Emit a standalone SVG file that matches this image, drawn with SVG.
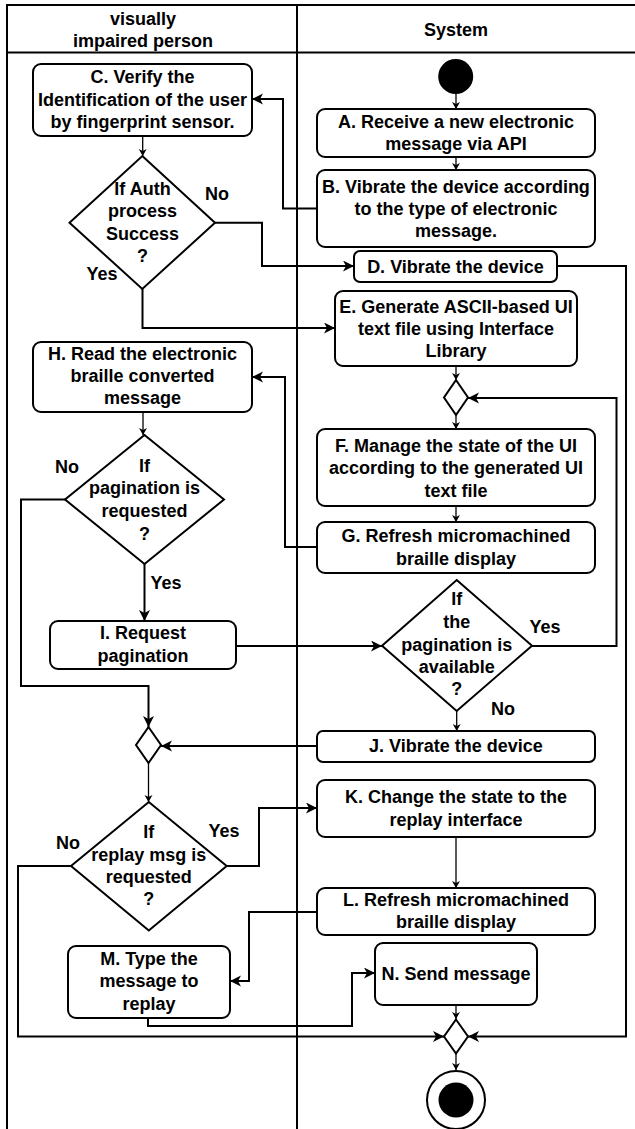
<svg xmlns="http://www.w3.org/2000/svg" width="635" height="1129" viewBox="0 0 635 1129">
<style>
.lane{fill:none;stroke:#000;stroke-width:2}
.box{fill:#fff;stroke:#000;stroke-width:2}
.t{font-family:"Liberation Sans",Arial,sans-serif;font-size:18px;font-weight:bold;fill:#000;text-anchor:middle}
.thin{fill:none;stroke:#000;stroke-width:1.3}
.thick{fill:none;stroke:#000;stroke-width:2}
</style>
<defs>
<marker id="sa" markerUnits="userSpaceOnUse" markerWidth="10" markerHeight="10" refX="7" refY="4" orient="auto"><path d="M0,0 L7,4 L0,8 L2,4 Z" fill="#000"/></marker>
<marker id="ba" markerUnits="userSpaceOnUse" markerWidth="14" markerHeight="14" refX="11" refY="5.5" orient="auto"><path d="M0,0 L11,5.5 L0,11 L3,5.5 Z" fill="#000"/></marker>
</defs>
<rect width="635" height="1129" fill="#fff"/>
<g id="swimlanes">
<path class="lane" d="M7,1129 V5 H640 M7,52.5 H640 M297,5 V1129"/>
<text class="t" x="143" y="25">visually</text>
<text class="t" x="143" y="47">impaired person</text>
<text class="t" x="456" y="36">System</text>
</g>
<g id="connectors">
<path class="thin" marker-end="url(#sa)" d="M456,94 V109"/>
<path class="thin" marker-end="url(#sa)" d="M456,157 V170"/>
<path class="thin" marker-end="url(#sa)" d="M142.7,136 V156"/>
<path class="thin" marker-end="url(#sa)" d="M456,366 V380"/>
<path class="thin" marker-end="url(#sa)" d="M456,415 V429"/>
<path class="thin" marker-end="url(#sa)" d="M456,506 V522"/>
<path class="thin" marker-end="url(#sa)" d="M143,412 V435"/>
<path class="thin" marker-end="url(#sa)" d="M456.7,711 V731"/>
<path class="thin" marker-end="url(#sa)" d="M148.5,763 V802"/>
<path class="thin" marker-end="url(#sa)" d="M456,837 V888"/>
<path class="thin" marker-end="url(#sa)" d="M456,1005 V1019"/>
<path class="thin" marker-end="url(#sa)" d="M456,1053 V1070"/>
<path class="thick" marker-end="url(#ba)" d="M317,208.5 H283 V99 H252"/>
<path class="thick" marker-end="url(#ba)" d="M215,222.7 H262 V266 H354"/>
<path class="thick" marker-end="url(#ba)" d="M142.5,289 V328 H335"/>
<path class="thick" marker-end="url(#ba)" d="M557,266 H626 V1036.5 H468"/>
<path class="thick" marker-end="url(#ba)" d="M317,547 H285 V377 H252"/>
<path class="thick" marker-end="url(#ba)" d="M144.5,564 V621"/>
<path class="thick" marker-end="url(#ba)" d="M65,499.5 H21 V686 H148.5 V727"/>
<path class="thick" marker-end="url(#ba)" d="M236,646 H382"/>
<path class="thick" marker-end="url(#ba)" d="M532,646 H616.5 V398 H468"/>
<path class="thick" marker-end="url(#ba)" d="M317,746 H161"/>
<path class="thick" marker-end="url(#ba)" d="M226.7,866 H259 V808 H317"/>
<path class="thick" marker-end="url(#ba)" d="M71,866 H18 V1036.5 H444"/>
<path class="thick" marker-end="url(#ba)" d="M317,912 H249 V981 H230"/>
<path class="thick" marker-end="url(#ba)" d="M148,1018 V1026 H352 V973 H375"/>
<text class="t" x="217" y="200">No</text>
<text class="t" x="102" y="280">Yes</text>
<text class="t" x="67" y="473">No</text>
<text class="t" x="166" y="589">Yes</text>
<text class="t" x="545" y="633">Yes</text>
<text class="t" x="503" y="715">No</text>
<text class="t" x="68" y="849">No</text>
<text class="t" x="224" y="837">Yes</text>
</g>
<g id="start"><circle cx="455.7" cy="76.5" r="17.5" fill="#000"/></g>
<g id="A"><rect class="box" x="317" y="109" width="278" height="48" rx="8"/>
<text class="t" x="456" y="128">A. Receive a new electronic</text><text class="t" x="456" y="150">message via API</text></g>
<g id="B"><rect class="box" x="317" y="170" width="278" height="77" rx="8"/>
<text class="t" x="456" y="193">B. Vibrate the device according</text><text class="t" x="456" y="215">to the type of electronic</text><text class="t" x="456" y="237">message.</text></g>
<g id="C"><rect class="box" x="33" y="64" width="219" height="72" rx="8"/>
<text class="t" x="142.5" y="83">C. Verify the</text><text class="t" x="142.5" y="105.5">Identification of the user</text><text class="t" x="142.5" y="128">by fingerprint sensor.</text></g>
<g id="auth"><path class="box" d="M142.3,156 L215,222.7 L142.3,289 L69.5,222.7 Z"/>
<text class="t" x="142.5" y="195">If Auth</text><text class="t" x="142.5" y="217">process</text><text class="t" x="142.5" y="240">Success</text><text class="t" x="142.5" y="262">?</text></g>
<g id="D"><rect class="box" x="354" y="251" width="203" height="31" rx="6"/>
<text class="t" x="455.5" y="272.5">D. Vibrate the device</text></g>
<g id="E"><rect class="box" x="335" y="291" width="242" height="75" rx="8"/>
<text class="t" x="456" y="313">E. Generate ASCII-based UI</text><text class="t" x="456" y="335">text file using Interface</text><text class="t" x="456" y="357">Library</text></g>
<g id="merge1"><path class="box" d="M456,380 L468,397.5 L456,415 L444,397.5 Z"/></g>
<g id="F"><rect class="box" x="317" y="429" width="278" height="77" rx="8"/>
<text class="t" x="456" y="452">F. Manage the state of the UI</text><text class="t" x="456" y="474">according to the generated UI</text><text class="t" x="456" y="497">text file</text></g>
<g id="G"><rect class="box" x="317" y="522" width="278" height="51" rx="8"/>
<text class="t" x="456" y="542">G. Refresh micromachined</text><text class="t" x="456" y="565">braille display</text></g>
<g id="H"><rect class="box" x="33" y="342" width="219" height="70" rx="8"/>
<text class="t" x="142.5" y="360">H. Read the electronic</text><text class="t" x="142.5" y="382">braille converted</text><text class="t" x="142.5" y="403.5">message</text></g>
<g id="pagReq"><path class="box" d="M144.5,435 L224,499.5 L144.5,564 L65,499.5 Z"/>
<text class="t" x="144.5" y="472">If</text><text class="t" x="144.5" y="494">pagination is</text><text class="t" x="144.5" y="517">requested</text><text class="t" x="144.5" y="540">?</text></g>
<g id="I"><rect class="box" x="50" y="621" width="186" height="48" rx="8"/>
<text class="t" x="143" y="639">I. Request</text><text class="t" x="143" y="662">pagination</text></g>
<g id="pagAvail"><path class="box" d="M456.7,580 L532,645.7 L456.7,711 L382,645.7 Z"/>
<text class="t" x="456.7" y="605">If</text><text class="t" x="456.7" y="628">the</text><text class="t" x="456.7" y="651">pagination is</text><text class="t" x="456.7" y="673">available</text><text class="t" x="456.7" y="695">?</text></g>
<g id="J"><rect class="box" x="317" y="731" width="278" height="31" rx="6"/>
<text class="t" x="456" y="752">J. Vibrate the device</text></g>
<g id="merge2"><path class="box" d="M148.5,727 L161,745 L148.5,763 L136,745 Z"/></g>
<g id="replay"><path class="box" d="M148.8,802 L226.7,866 L148.8,930.5 L71,866 Z"/>
<text class="t" x="148.8" y="838">If</text><text class="t" x="148.8" y="861">replay msg is</text><text class="t" x="148.8" y="883">requested</text><text class="t" x="148.8" y="905">?</text></g>
<g id="K"><rect class="box" x="317" y="780" width="278" height="57" rx="8"/>
<text class="t" x="456" y="803">K. Change the state to the</text><text class="t" x="456" y="826">replay interface</text></g>
<g id="L"><rect class="box" x="317" y="888" width="278" height="47" rx="8"/>
<text class="t" x="456" y="906">L. Refresh micromachined</text><text class="t" x="456" y="928">braille display</text></g>
<g id="M"><rect class="box" x="68" y="946" width="162" height="72" rx="8"/>
<text class="t" x="149" y="965">M. Type the</text><text class="t" x="149" y="987">message to</text><text class="t" x="149" y="1010">replay</text></g>
<g id="N"><rect class="box" x="375" y="943" width="162" height="62" rx="8"/>
<text class="t" x="456" y="980">N. Send message</text></g>
<g id="merge3"><path class="box" d="M456,1019.5 L468,1036.5 L456,1053.5 L444,1036.5 Z"/></g>
<g id="end"><circle cx="456" cy="1100" r="29" fill="#fff" stroke="#000" stroke-width="2"/><circle cx="456" cy="1100" r="17.5" fill="#000"/></g>
</svg>
